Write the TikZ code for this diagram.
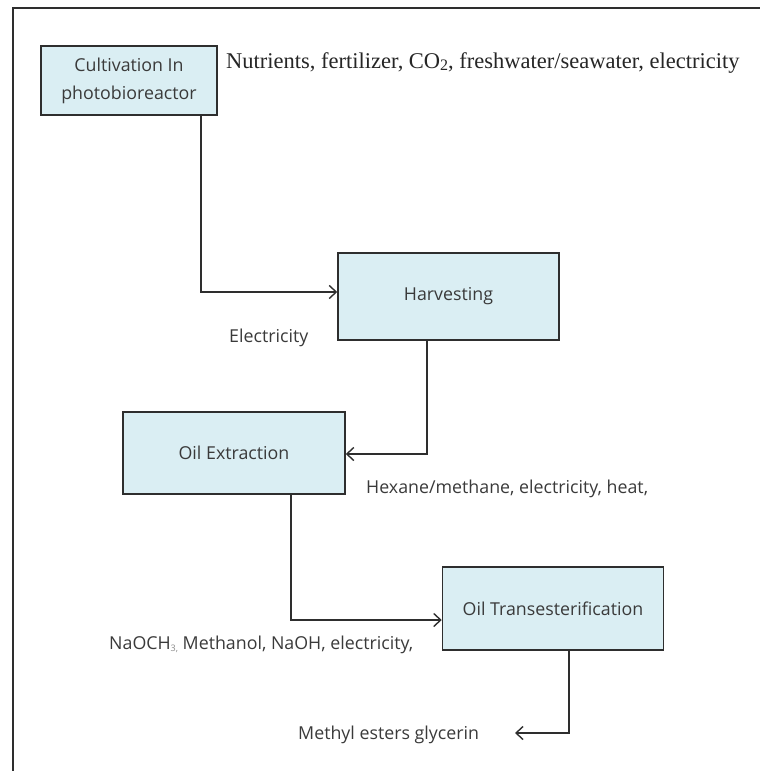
\documentclass[tikz,border=0pt]{standalone}
\usepackage{fontspec}
\setmainfont{Liberation Serif}
\newfontfamily\segfont{Open Sans}
\usetikzlibrary{arrows.meta}
\definecolor{boxfill}{HTML}{DAEEF3}
\definecolor{linegray}{HTML}{2E2E2E}
\definecolor{txtgray}{HTML}{3A3A3A}
\tikzset{
  stage/.style={draw=linegray, line width=1.5pt, fill=boxfill, rectangle, inner sep=0pt,
    font=\segfont\fontsize{17.8}{28}\selectfont, text=txtgray, align=center},
  flow/.style={draw=linegray, line width=1.5pt, -{Straight Barb[length=7pt,width=13pt,line width=1.4pt]}},
  plain/.style={draw=linegray, line width=1.4pt},
  inlabel/.style={font=\segfont\fontsize{17.8}{20}\selectfont, text=txtgray, inner sep=0pt},
  serlabel/.style={font=\fontsize{22.5}{24}\selectfont, text=black!85, inner sep=0pt}
}
\begin{document}
\begin{tikzpicture}[x=1pt,y=-1pt]
\useasboundingbox (0,0) rectangle (760,771);
\fill[white] (0,0) rectangle (760,771);
% frame
\coordinate (ftl) at (13,8);
\coordinate (ftr) at (760,8);
\coordinate (fbl) at (13,771);
\draw[plain, line width=1.2pt] (ftr) -- (ftl) -- (fbl);

\node[stage, minimum width=176pt, minimum height=69pt] (cult) at (129,80.5) {Cultivation In\\photobioreactor};
\node[stage, minimum width=221pt, minimum height=87pt] (harv) at (448.5,296.5) {Harvesting};
\node[stage, minimum width=222pt, minimum height=82pt] (oil) at (234,453) {Oil Extraction};
\node[stage, minimum width=221pt, minimum height=83pt] (trans) at (553,608.5) {Oil Transesterification};

\node[serlabel, anchor=base west] (nutr) at (226,68) {Nutrients, fertilizer, CO\raisebox{-0.2ex}{\fontsize{16}{16}\selectfont 2}, freshwater/seawater, electricity};
\node[inlabel, anchor=base west] (elec) at (229,342) {Electricity};
\node[inlabel, anchor=base west] (hex) at (366,493) {Hexane/methane, electricity, heat,};
\node[inlabel, anchor=base west] (naoch) at (109,649) {NaOCH\raisebox{-0.3ex}{\fontsize{9}{9}\selectfont\color{black!45}3,} Methanol, NaOH, electricity,};
\node[inlabel, anchor=base west] (meth) at (298,739) {Methyl esters glycerin};

\coordinate (b1) at (201,292);
\coordinate (b2) at (427,454);
\coordinate (b3) at (291,620);
\coordinate (b4) at (569,733);
\coordinate (e4) at (515,733);

\draw[flow] (cult.south -| b1) -- (b1) -- (b1 -| harv.west);
\draw[flow] (harv.south -| b2) -- (b2) -- (b2 -| oil.east);
\draw[flow] (oil.south -| b3) -- (b3) -- (b3 -| trans.west);
\draw[flow] (trans.south -| b4) -- (b4) -- (e4);
\end{tikzpicture}
\end{document}
